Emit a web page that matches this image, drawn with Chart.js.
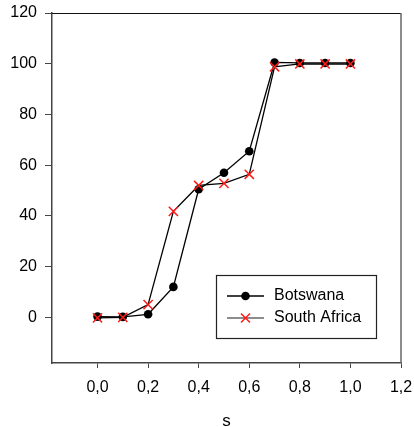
<!DOCTYPE html>
<html>
<head>
<meta charset="utf-8">
<script src="https://cdn.jsdelivr.net/npm/chart.js@4/dist/chart.umd.min.js"></script>
<style>
  html, body { margin: 0; padding: 0; background: #fff; }
  #wrap { width: 414px; height: 427px; }
</style>
</head>
<body>
<div id="wrap"><canvas id="chart"></canvas></div>
<script>
// データ
const sValues = [0.0, 0.1, 0.2, 0.3, 0.4, 0.5, 0.6, 0.7, 0.8, 0.9, 1.0];
const botswana = [0.3, 0.2, 1.2, 12, 50.5, 57, 65.5, 100.5, 100.3, 100.3, 100.3];
const southAfrica = [-0.2, 0, 5, 41.8, 52, 52.8, 56.4, 98.8, 99.9, 99.9, 99.9];
const xTicks = [0.0, 0.2, 0.4, 0.6, 0.8, 1.0, 1.2];
const yTicks = [0, 20, 40, 60, 80, 100, 120];

const toPoints = (ys) => ys.map((y, i) => ({ x: sValues[i], y: y }));
const FONT = '"Liberation Sans", Arial, sans-serif';

// 枠線（上と右）
const framePlugin = {
  id: 'frame',
  afterDraw(chart) {
    const { ctx, chartArea: a } = chart;
    ctx.save();
    ctx.strokeStyle = '#111';
    ctx.lineWidth = 1;
    ctx.beginPath();
    ctx.moveTo(a.left, a.top + 0.5);
    ctx.lineTo(a.right, a.top + 0.5);
    ctx.stroke();
    ctx.strokeStyle = '#666';
    ctx.lineWidth = 1.5;
    ctx.beginPath();
    ctx.moveTo(a.right, a.top);
    ctx.lineTo(a.right, a.bottom);
    ctx.stroke();
    ctx.restore();
  }
};

// 枠付きの凡例
const boxLegend = {
  id: 'boxLegend',
  afterDraw(chart) {
    const { ctx, chartArea: a } = chart;
    const x0 = a.right - 185, y0 = a.bottom - 88, w = 160, h = 63;
    ctx.save();
    ctx.fillStyle = '#fff';
    ctx.fillRect(x0, y0, w, h);
    ctx.strokeStyle = '#222';
    ctx.lineWidth = 1.2;
    ctx.strokeRect(x0 + 0.5, y0 + 0.5, w, h);
    ctx.font = '16px ' + FONT;
    ctx.textBaseline = 'middle';
    chart.data.datasets.forEach((ds, i) => {
      const y = y0 + 21 + i * 22;
      ctx.strokeStyle = i === 0 ? '#000' : '#666';
      ctx.lineWidth = 1.5;
      ctx.beginPath();
      ctx.moveTo(x0 + 11, y);
      ctx.lineTo(x0 + 48, y);
      ctx.stroke();
      const cx = x0 + 29.5;
      if (ds.pointStyle === 'circle') {
        ctx.fillStyle = ds.pointBackgroundColor;
        ctx.beginPath();
        ctx.arc(cx, y, 4.3, 0, Math.PI * 2);
        ctx.fill();
      } else {
        ctx.strokeStyle = ds.pointBorderColor;
        ctx.lineWidth = 1.5;
        ctx.beginPath();
        ctx.moveTo(cx - 4.5, y - 4.5); ctx.lineTo(cx + 4.5, y + 4.5);
        ctx.moveTo(cx + 4.5, y - 4.5); ctx.lineTo(cx - 4.5, y + 4.5);
        ctx.stroke();
      }
      ctx.fillStyle = '#000';
      ctx.fillText(ds.label, x0 + 58, y);
    });
    ctx.restore();
  }
};

const fmt = (v) => Number(v).toFixed(1).replace('.', ',');

new Chart(document.getElementById('chart'), {
  type: 'line',
  data: {
    datasets: [
      {
        label: 'Botswana',
        data: toPoints(botswana),
        borderColor: '#000',
        borderWidth: 1.3,
        pointStyle: 'circle',
        pointRadius: 4.3,
        pointBackgroundColor: '#000',
        pointBorderColor: '#000',
        pointBorderWidth: 0,
        fill: false,
        tension: 0,
        order: 1
      },
      {
        label: 'South Africa',
        data: toPoints(southAfrica),
        borderColor: '#000',
        borderWidth: 1.3,
        pointStyle: 'crossRot',
        pointRadius: 6.5,
        pointBorderColor: '#ff1a1a',
        pointBackgroundColor: '#ff1a1a',
        pointBorderWidth: 1.5,
        fill: false,
        tension: 0,
        order: 0
      }
    ]
  },
  options: {
    responsive: true,
    maintainAspectRatio: false,
    animation: false,
    layout: { padding: { top: 13, right: 13, left: 0, bottom: 0 } },
    plugins: {
      legend: { display: false },
      tooltip: { enabled: false }
    },
    scales: {
      x: {
        type: 'linear',
        min: -0.18,
        max: 1.2,
        afterBuildTicks(scale) { scale.ticks = xTicks.map(v => ({ value: v })); },
        afterFit(scale) {
          scale.height = 64;
          scale.paddingLeft = 0;
          scale.paddingRight = 0;
        },
        grid: { display: true, drawOnChartArea: false, drawTicks: true, tickLength: 5, color: '#444' },
        border: { display: true, color: '#444', width: 1.5 },
        ticks: {
          padding: 10,
          color: '#000',
          font: { family: FONT, size: 16 },
          callback: (v) => fmt(v),
          maxRotation: 0,
          autoSkip: false
        },
        title: {
          display: true,
          text: 's',
          color: '#000',
          padding: { top: 0, bottom: 0 },
          font: { family: FONT, size: 17, lineHeight: 0.7 }
        }
      },
      y: {
        min: -18,
        max: 120,
        afterBuildTicks(scale) { scale.ticks = yTicks.map(v => ({ value: v })); },
        afterFit(scale) {
          scale.width = 52;
          scale.paddingTop = 0;
          scale.paddingBottom = 0;
        },
        grid: { display: true, drawOnChartArea: false, drawTicks: true, tickLength: 7, color: '#444' },
        border: { display: true, color: '#444', width: 1.5 },
        ticks: {
          padding: 8,
          color: '#000',
          font: { family: FONT, size: 16 },
          autoSkip: false
        }
      }
    }
  },
  plugins: [framePlugin, boxLegend]
});
</script>
</body>
</html>
